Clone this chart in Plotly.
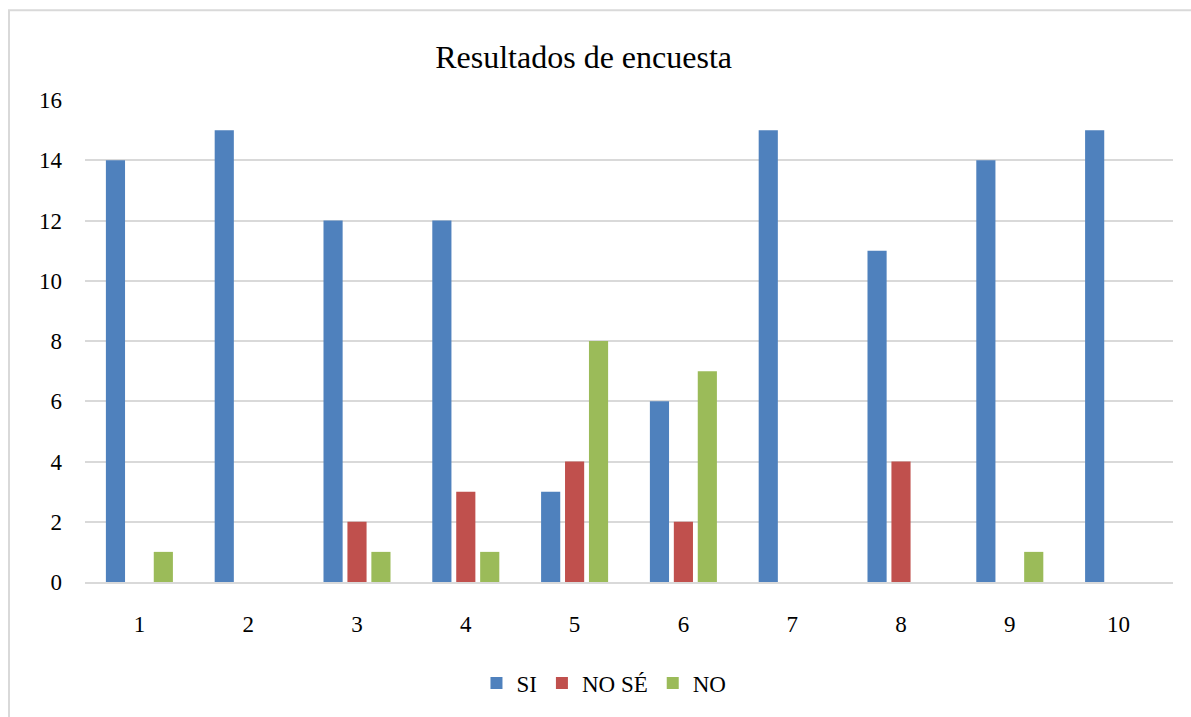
import plotly.graph_objects as go

# Survey results per question
preguntas = ["1", "2", "3", "4", "5", "6", "7", "8", "9", "10"]
si = [14, 15, 12, 12, 3, 6, 15, 11, 14, 15]
no_se = [0, 0, 2, 3, 4, 2, 0, 4, 0, 0]
no = [1, 0, 1, 1, 8, 7, 0, 0, 1, 0]

series = [
    ("SI", si, "#4F81BD"),
    ("NO SÉ", no_se, "#C0504D"),
    ("NO", no, "#9BBB59"),
]

font_family = "Liberation Serif, Times New Roman, serif"

fig = go.Figure()
for name, vals, color in series:
    fig.add_trace(go.Bar(
        x=preguntas, y=vals, name=name,
        marker=dict(color=color, line=dict(width=0)),
    ))

W, H = 1191, 717
L, R, T, B = 85, 18, 100, 131
pw, ph = W - L - R, H - T - B

def px_to_paper_x(px):
    return (px - L) / pw

def px_to_paper_y(py):
    return (H - B - py) / ph

fig.update_layout(
    width=W, height=H,
    margin=dict(l=L, r=R, t=T, b=B),
    paper_bgcolor="white", plot_bgcolor="white",
    font=dict(family=font_family, color="#000000", size=23),
    title=dict(text="Resultados de encuesta", x=0.49, xanchor="center",
               y=1 - 57 / H, yanchor="middle",
               font=dict(family=font_family, size=32, color="#000000")),
    barmode="group", bargap=0.34, bargroupgap=0.2,
    showlegend=True,
    legend=dict(orientation="h", x=0.477, xanchor="center",
                y=px_to_paper_y(688), yanchor="middle",
                font=dict(family=font_family, size=23),
                itemwidth=30, tracegroupgap=0),
    xaxis=dict(showgrid=False, showline=True, linecolor="#D9D9D9", linewidth=2,
               ticks="", ticklabelstandoff=20,
               tickfont=dict(family=font_family, size=23)),
    yaxis=dict(range=[0, 16], dtick=2, showgrid=True, gridcolor="#D9D9D9",
               gridwidth=2, zeroline=False, showline=False, ticks="",
               ticklabelstandoff=22,
               tickfont=dict(family=font_family, size=23)),
    shapes=[dict(type="rect", xref="paper", yref="paper",
                 x0=px_to_paper_x(9), x1=px_to_paper_x(1200),
                 y0=px_to_paper_y(730), y1=px_to_paper_y(9.5),
                 line=dict(color="#D9D9D9", width=2), layer="below")],
)

fig.write_html("out.html")
